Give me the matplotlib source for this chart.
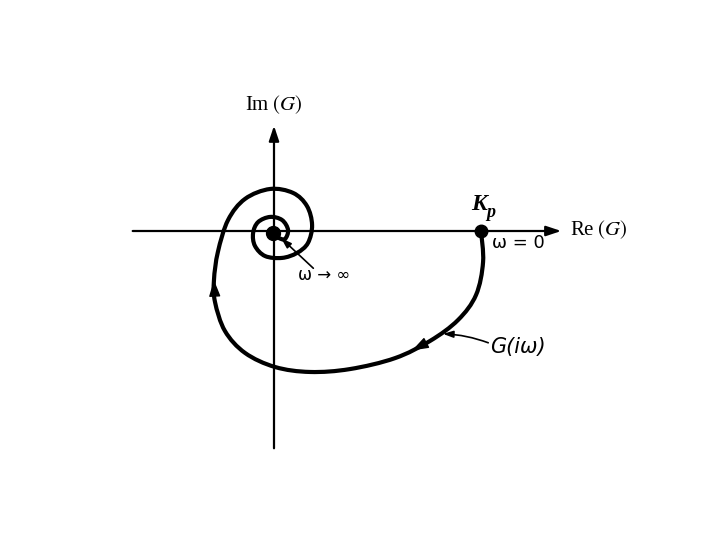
import numpy as np
import matplotlib.pyplot as plt
from matplotlib.path import Path
from matplotlib.patches import PathPatch

# G(i w) locus, in units of Kp (Kp = 1 at the right)
re_g = [1.000, 1.010, 0.976, 0.889, 0.754, 0.585, 0.367, 0.174, 0.005, -0.140,
        -0.237, -0.285, -0.290, -0.271, -0.222, -0.140, -0.019, 0.092, 0.159, 0.184,
        0.164, 0.111, 0.039, -0.043, -0.092, -0.101, -0.077, -0.019, 0.039, 0.068,
        0.053, 0.024, 0.005]
im_g = [0.000, -0.150, -0.309, -0.430, -0.531, -0.614, -0.667, -0.681, -0.657, -0.589,
        -0.483, -0.343, -0.237, -0.101, 0.053, 0.155, 0.203, 0.184, 0.121, 0.029,
        -0.058, -0.106, -0.130, -0.121, -0.072, -0.010, 0.043, 0.068, 0.053, 0.005,
        -0.039, -0.034, -0.019]

kp_point = (1.0, 0.0)
origin_point = (-0.005, -0.010)

# x / y extent of the drawn axes, same units
x_axis = (-0.696, 1.401)
y_axis = (-1.063, 0.522)


def smooth_path(xs, ys):
	"""
		Builds a Catmull-Rom style bezier path through the read points
	"""
	p = np.column_stack([xs, ys])
	verts = [p[0]]
	codes = [Path.MOVETO]
	for i in range(len(p) - 1):
		p0 = p[i - 1] if i > 0 else p[i]
		p3 = p[i + 2] if i + 2 < len(p) else p[i + 1]
		c1 = p[i] + (p[i + 1] - p0) / 6
		c2 = p[i + 1] - (p3 - p[i]) / 6
		verts += [c1, c2, p[i + 1]]
		codes += [Path.CURVE4] * 3
	return Path(verts, codes)


plt.rcParams['font.family'] = ['Liberation Serif', 'DejaVu Serif']
plt.rcParams['mathtext.fontset'] = 'stix'

fig = plt.figure(figsize=(7.2, 5.4), dpi=100)
ax = fig.add_axes([0, 0, 1, 1])
ax.set_xlim(-274 / 207, 446 / 207)
ax.set_ylim(-309 / 207, 231 / 207)
ax.set_aspect('equal')
ax.axis('off')

# axes with arrow heads
ax.annotate('', xy=(x_axis[1], 0), xytext=(x_axis[0], 0),
            arrowprops=dict(arrowstyle='-|>,head_length=0.9,head_width=0.3', lw=1.6, color='black'))
ax.annotate('', xy=(0, y_axis[1]), xytext=(0, y_axis[0]),
            arrowprops=dict(arrowstyle='-|>,head_length=0.9,head_width=0.3', lw=1.6, color='black'))

ax.add_patch(PathPatch(smooth_path(re_g, im_g), fill=False, lw=3.0, color='black', capstyle='round'))

# direction arrows on the curve
ax.annotate('', xy=(0.667, -0.577), xytext=(re_g[4], im_g[4]),
            arrowprops=dict(arrowstyle='-|>,head_length=1.0,head_width=0.35', lw=1, color='black',
                            shrinkA=0, shrinkB=0))
ax.annotate('', xy=(re_g[12], im_g[12]), xytext=(re_g[11], im_g[11]),
            arrowprops=dict(arrowstyle='-|>,head_length=1.0,head_width=0.35', lw=1, color='black',
                            shrinkA=0, shrinkB=0))

ax.plot(*kp_point, 'o', ms=9, color='black')
ax.plot(*origin_point, 'o', ms=10, color='black')

sans = ['DejaVu Sans']
ax.text(0.0, 0.61, 'Im$\\;(G)$', fontsize=15, ha='center', va='center')
ax.text(1.43, 0.005, 'Re$\\;(G)$', fontsize=15, ha='left', va='center')
ax.text(0.990, 0.128, 'K', fontsize=17, ha='center', va='center', style='italic', fontweight='bold')
ax.text(1.045, 0.088, 'p', fontsize=13, ha='center', va='center', style='italic', fontweight='bold')
ax.text(1.055, -0.058, 'ω = 0', fontsize=13, ha='left', va='center', family=sans)
ax.text(0.115, -0.212, 'ω → ∞', fontsize=12, ha='left', va='center', family=sans)
ax.text(1.045, -0.562, 'G(iω)', fontsize=15, ha='left', va='center', family=sans, style='italic')

ax.annotate('', xy=(0.816, -0.497), xytext=(1.035, -0.540),
            arrowprops=dict(arrowstyle='-|>,head_length=0.6,head_width=0.2', lw=1.2, color='black',
                            connectionstyle='arc3,rad=0.08', shrinkA=0, shrinkB=0))
ax.annotate('', xy=(0.035, -0.035), xytext=(0.190, -0.180),
            arrowprops=dict(arrowstyle='-|>,head_length=0.6,head_width=0.2', lw=1.2, color='black',
                            shrinkA=0, shrinkB=0))

plt.savefig('out.png')
